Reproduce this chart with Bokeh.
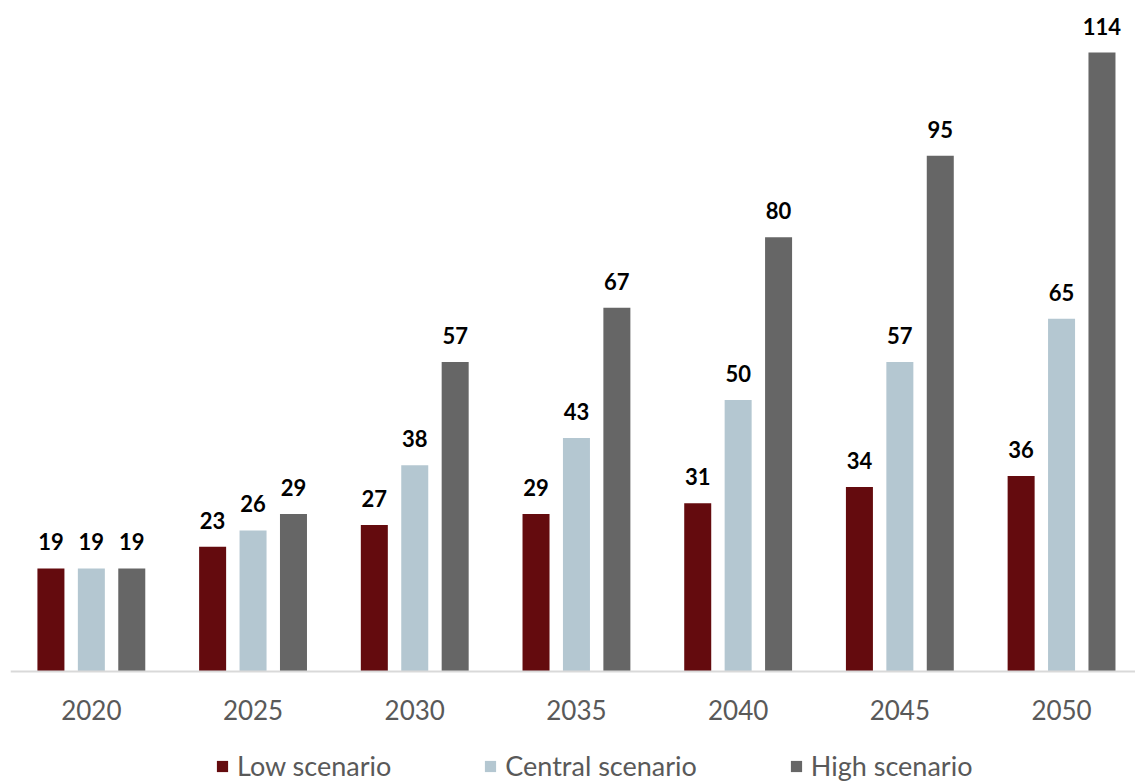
from bokeh.plotting import figure
from bokeh.models import ColumnDataSource, Legend, LegendItem, FixedTicker, Range1d, LabelSet
from bokeh.transform import dodge
from bokeh.core.properties import value
from bokeh.embed import file_html
from bokeh.resources import INLINE

years = ["2020", "2025", "2030", "2035", "2040", "2045", "2050"]
low = [19, 23, 27, 29, 31, 34, 36]
central = [19, 26, 38, 43, 50, 57, 65]
high = [19, 29, 57, 67, 80, 95, 114]
series_names = ["Low scenario", "Central scenario", "High scenario"]
colors = ["#640B0E", "#B4C7D1", "#666666"]

xi = list(range(len(years)))
src = ColumnDataSource(dict(
    x=xi, low=low, central=central, high=high,
    low_t=[str(v) for v in low], central_t=[str(v) for v in central], high_t=[str(v) for v in high],
))

FONT = "Lato"

p = figure(width=1135, height=782, output_backend="svg", toolbar_location=None,
           x_range=Range1d(-0.5, -0.5 + 1125 / 161.7), y_range=Range1d(-20.44, 123.6),
           min_border_left=10, min_border_right=0, min_border_top=0, min_border_bottom=0)
p.outline_line_color = None
p.xgrid.visible = False
p.ygrid.visible = False
p.yaxis.visible = False

offsets = [-0.25, 0.0, 0.25]
keys = ["low", "central", "high"]
renderers = []
for k, off, c in zip(keys, offsets, colors):
    r = p.vbar(x=dodge("x", off, range=p.x_range), top=k, width=0.167, bottom=0,
               source=src, fill_color=c, line_color=None)
    renderers.append(r)
    labels = LabelSet(x=dodge("x", off, range=p.x_range), y=k, text=k + "_t", source=src,
                      text_align="center", text_baseline="bottom", y_offset=18,
                      text_font=value(FONT), text_font_style="bold", text_font_size="22px",
                      text_color="#000000")
    p.add_layout(labels)

xa = p.xaxis[0]
xa.fixed_location = 0
xa.ticker = FixedTicker(ticks=xi)
xa.major_label_overrides = {i: y for i, y in zip(xi, years)}
xa.major_tick_line_color = None
xa.minor_tick_line_color = None
xa.axis_line_color = "#D9D9D9"
xa.axis_line_width = 2
xa.major_label_text_font = FONT
xa.major_label_text_font_size = "26px"
xa.major_label_text_color = "#595959"
xa.major_label_standoff = 22

legend = Legend(items=[LegendItem(label=n, renderers=[r]) for n, r in zip(series_names, renderers)],
                orientation="horizontal", location=(205, 0),
                label_text_font=FONT, label_text_font_size="27px", label_text_color="#595959",
                glyph_width=14, glyph_height=14, label_standoff=8, spacing=92,
                border_line_color=None, background_fill_alpha=0, padding=0, margin=0)
p.add_layout(legend, "center")

open("out.html", "w").write(file_html(p, INLINE))
